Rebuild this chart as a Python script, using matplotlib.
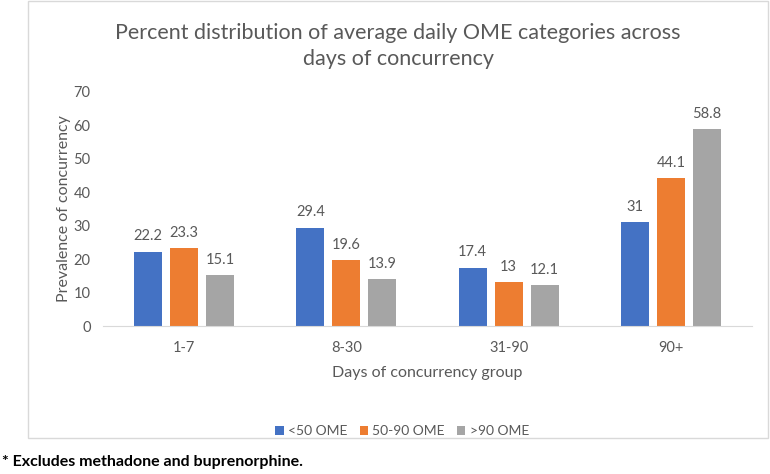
import numpy as np
import matplotlib
matplotlib.use("Agg")
import matplotlib.pyplot as plt
from matplotlib.patches import Rectangle

plt.rcParams['font.family'] = ['Lato', 'DejaVu Sans']

# data
groups = ['1-7', '8-30', '31-90', '90+']
series = ['<50 OME', '50-90 OME', '>90 OME']
low = [22.2, 29.4, 17.4, 31]
mid = [23.3, 19.6, 13, 44.1]
high = [15.1, 13.9, 12.1, 58.8]
colors = ['#4472C4', '#ED7D31', '#A5A5A5']
grey = '#595959'

fig = plt.figure(figsize=(7.7, 4.74), dpi=100)

# chart border
fig.patches.append(Rectangle((28/770, 1-438/474), 740/770, 437/474,
                             transform=fig.transFigure, fill=False,
                             edgecolor='#D9D9D9', linewidth=1))

ax = fig.add_axes([0.1338, 0.3122, 0.8429, 0.4947])
x = np.arange(len(groups))
w = 0.173
step = 0.222
for i, (vals, lab) in enumerate(zip([low, mid, high], series)):
    bars = ax.bar(x + (i-1)*step, vals, w, color=colors[i], label=lab)
    ax.bar_label(bars, labels=[f'{v:g}' for v in vals], padding=6,
                 fontsize=10.5, color=grey)

ax.set_xlim(-0.5, 3.5)
ax.set_ylim(0, 70)
ax.set_yticks(range(0, 71, 10))
ax.set_xticks(x)
ax.set_xticklabels(groups)
ax.tick_params(axis='both', length=0, labelsize=10.5, labelcolor=grey)
ax.tick_params(axis='y', pad=9)
ax.tick_params(axis='x', pad=11)
for s in ['top', 'right', 'left']:
    ax.spines[s].set_visible(False)
ax.spines['bottom'].set_color('#D9D9D9')

ax.set_ylabel('Prevalence of concurrency', fontsize=11.5, color=grey, labelpad=2)
ax.set_xlabel('Days of concurrency group', fontsize=11.5, color=grey, labelpad=8)

fig.text(0.517, 1-46/474, 'Percent distribution of average daily OME categories across\ndays of concurrency',
         ha='center', va='center', fontsize=15.5, color=grey,
         linespacing=1.35)

ax.legend(loc='center', bbox_to_anchor=(402/770, 1-431/474), bbox_transform=fig.transFigure,
          ncol=3, frameon=False, fontsize=10, labelcolor=grey, handlelength=0.6,
          handleheight=0.6, handletextpad=0.3, columnspacing=0.9)

fig.text(0.002, 1-462/474, '* Excludes methadone and buprenorphine.', ha='left', va='center',
         fontsize=11.5, fontweight='bold', color='black')

fig.savefig('out.png', dpi=100)
